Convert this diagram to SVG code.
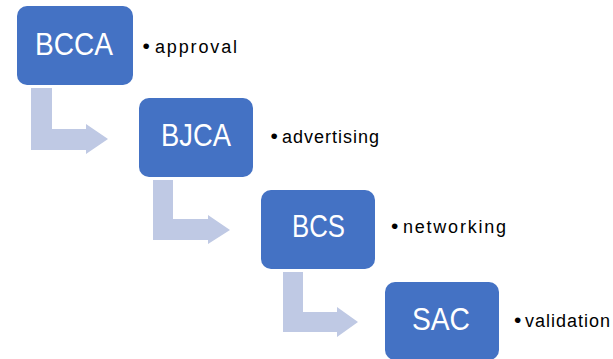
<svg xmlns="http://www.w3.org/2000/svg" width="613" height="359" viewBox="0 0 613 359">
<style>
.box{fill:#4472C4;}
.arr{fill:#BFC9E4;}
.lbl{font-family:"Liberation Sans",Arial,sans-serif;font-size:31px;fill:#FFFFFF;}
.bul{font-family:"Liberation Sans",Arial,sans-serif;font-size:18px;fill:#000000;}
.dot{font-size:21px;}
</style>
<rect width="613" height="359" fill="#FFFFFF"/>
<g id="connectors">
<path class="arr" d="M31,88 H52 V129 H86 V124 L108,139 L86,154 V150 H31 Z"/>
<path class="arr" d="M153,180 H173 V219 H208 V215 L230,230 L208,244 V240 H153 Z"/>
<path class="arr" d="M283,272 H303 V312 H337 V307 L358,322 L337,337 V332 H283 Z"/>
</g>
<g id="node-bcca">
<rect class="box" x="17" y="6" width="116" height="79" rx="10"/>
<text class="lbl" x="35" y="55" textLength="78" lengthAdjust="spacingAndGlyphs">BCCA</text>
</g>
<g id="note-approval">
<text class="bul" y="53"><tspan class="dot" x="142.5">•</tspan><tspan x="155" textLength="82" lengthAdjust="spacing">approval</tspan></text>
</g>
<g id="node-bjca">
<rect class="box" x="139" y="98" width="114" height="79" rx="10"/>
<text class="lbl" x="161" y="146" textLength="70" lengthAdjust="spacingAndGlyphs">BJCA</text>
</g>
<g id="note-advertising">
<text class="bul" y="143"><tspan class="dot" x="270.5">•</tspan><tspan x="282" textLength="97" lengthAdjust="spacing">advertising</tspan></text>
</g>
<g id="node-bcs">
<rect class="box" x="261" y="190" width="114" height="79" rx="10"/>
<text class="lbl" x="292" y="237" textLength="53" lengthAdjust="spacingAndGlyphs">BCS</text>
</g>
<g id="note-networking">
<text class="bul" y="233"><tspan class="dot" x="391">•</tspan><tspan x="403" textLength="103" lengthAdjust="spacing">networking</tspan></text>
</g>
<g id="node-sac">
<rect class="box" x="385" y="282" width="114" height="78" rx="10"/>
<text class="lbl" x="412" y="330" textLength="58" lengthAdjust="spacingAndGlyphs">SAC</text>
</g>
<g id="note-validation">
<text class="bul" y="327"><tspan class="dot" x="514">•</tspan><tspan x="525" textLength="85" lengthAdjust="spacing">validation</tspan></text>
</g>
</svg>
